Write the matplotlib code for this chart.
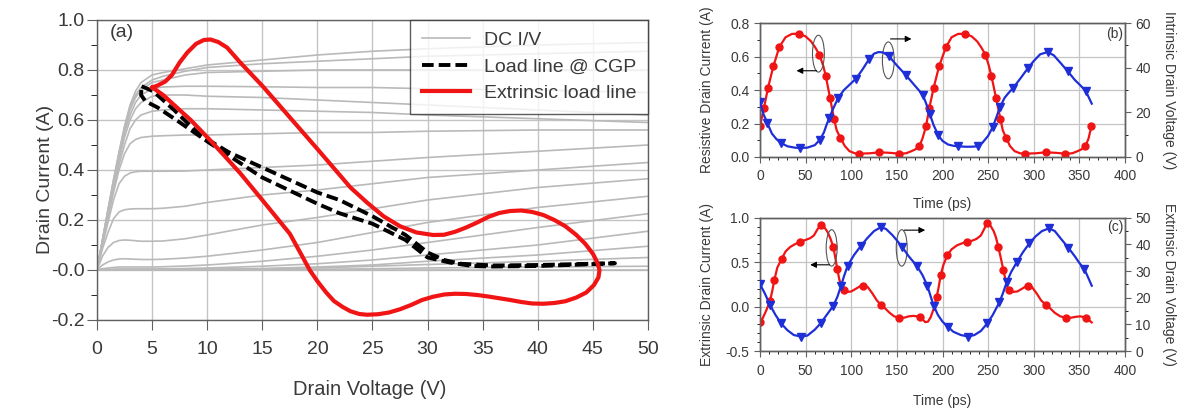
import matplotlib
matplotlib.use("Agg")
import matplotlib.pyplot as plt
from matplotlib.patches import Ellipse
from matplotlib.ticker import MultipleLocator

plt.rcParams['font.family'] = ['Liberation Sans', 'DejaVu Sans']
TXT = "#3a3a3a"
GRID = "#c4c4c4"
SPINE = "#606060"
RED = "#f01414"
BLUE = "#1f2fd8"

# ---------------- panel (a) data ----------------
V_DC = [0, 0.5, 1, 1.5, 2, 2.5, 3, 3.5, 4, 5, 6, 8, 10, 15, 20, 25, 30, 40, 50]
I_DC = [
    [0, 0.12, 0.24, 0.36, 0.47, 0.575, 0.66, 0.715, 0.75, 0.78, 0.79, 0.805, 0.82, 0.84, 0.86, 0.875, 0.885, 0.90, 0.91],
    [0, 0.12, 0.24, 0.36, 0.47, 0.57, 0.65, 0.70, 0.73, 0.76, 0.775, 0.795, 0.81, 0.825, 0.835, 0.845, 0.855, 0.865, 0.875],
    [0, 0.12, 0.24, 0.35, 0.46, 0.56, 0.64, 0.69, 0.72, 0.75, 0.76, 0.78, 0.79, 0.795, 0.80, 0.80, 0.80, 0.80, 0.80],
    [0, 0.115, 0.23, 0.34, 0.45, 0.55, 0.62, 0.67, 0.70, 0.725, 0.732, 0.735, 0.735, 0.733, 0.73, 0.73, 0.725, 0.72, 0.71],
    [0, 0.115, 0.23, 0.34, 0.44, 0.53, 0.60, 0.645, 0.67, 0.695, 0.70, 0.70, 0.695, 0.69, 0.68, 0.67, 0.66, 0.64, 0.62],
    [0, 0.11, 0.22, 0.32, 0.42, 0.50, 0.565, 0.60, 0.62, 0.635, 0.64, 0.645, 0.645, 0.64, 0.635, 0.63, 0.62, 0.605, 0.59],
    [0, 0.105, 0.21, 0.31, 0.40, 0.465, 0.505, 0.522, 0.53, 0.535, 0.537, 0.54, 0.54, 0.545, 0.55, 0.55, 0.555, 0.56, 0.56],
    [0, 0.10, 0.19, 0.28, 0.345, 0.375, 0.388, 0.393, 0.395, 0.395, 0.395, 0.396, 0.40, 0.41, 0.42, 0.435, 0.45, 0.475, 0.50],
    [0, 0.085, 0.15, 0.205, 0.232, 0.241, 0.244, 0.245, 0.245, 0.245, 0.247, 0.255, 0.27, 0.30, 0.32, 0.345, 0.37, 0.40, 0.43],
    [0, 0.055, 0.09, 0.11, 0.118, 0.12, 0.119, 0.117, 0.115, 0.115, 0.116, 0.125, 0.14, 0.18, 0.21, 0.245, 0.28, 0.33, 0.365],
    [0, 0.02, 0.032, 0.04, 0.044, 0.045, 0.044, 0.043, 0.042, 0.042, 0.043, 0.048, 0.055, 0.08, 0.11, 0.15, 0.19, 0.25, 0.295],
    [0, 0.005, 0.008, 0.01, 0.012, 0.012, 0.012, 0.012, 0.012, 0.012, 0.013, 0.016, 0.02, 0.035, 0.055, 0.08, 0.11, 0.17, 0.225],
    [0, 0.001, 0.002, 0.003, 0.004, 0.004, 0.004, 0.004, 0.004, 0.004, 0.0045, 0.006, 0.008, 0.015, 0.025, 0.04, 0.06, 0.10, 0.155],
    [0, 0, 0.001, 0.0015, 0.002, 0.002, 0.002, 0.002, 0.002, 0.002, 0.002, 0.0025, 0.003, 0.006, 0.012, 0.02, 0.035, 0.06, 0.095],
    [0, 0, 0, 0.001, 0.001, 0.001, 0.001, 0.001, 0.001, 0.001, 0.001, 0.0015, 0.002, 0.004, 0.008, 0.015, 0.022, 0.035, 0.05],
    [0, 0, 0, 0, 0, 0, 0, 0, 0, 0, 0, 0.0005, 0.001, 0.002, 0.003, 0.005, 0.008, 0.012, 0.015],
    [0, 0, 0, 0, 0, 0, 0, 0, 0, 0, 0, 0, 0, 0, 0, 0, 0, 0, 0],
]

# load line @ CGP (closed, dashed)
V_CGP = [4.05, 5.1, 7.0, 9.35, 12, 15, 20, 22, 25, 28, 30, 31.5, 33, 36, 40, 44, 47,
         44, 40, 36, 34, 32, 30, 28, 25, 22, 20, 15, 10.25, 7.2, 5.5, 4.4, 4.0, 4.05]
I_CGP = [0.735, 0.715, 0.64, 0.54, 0.47, 0.41, 0.31, 0.28, 0.215, 0.14, 0.07, 0.04, 0.025,
         0.018, 0.02, 0.024, 0.027,
         0.022, 0.016, 0.014, 0.016, 0.03, 0.05, 0.12, 0.185, 0.227, 0.265, 0.37, 0.507,
         0.60, 0.65, 0.675, 0.70, 0.735]

# extrinsic load line (closed)
V_EXT = [5.03, 5.5, 6.2, 6.8, 7.5, 8.2, 9.0, 9.7, 10.3, 11.0, 11.8, 13.0, 15.06, 20.0,
         23.0, 24.5, 26.0, 27.5, 29.0, 30.5, 31.5, 32.5, 33.5, 34.5, 35.5, 36.5, 37.5,
         38.5, 39.5, 40.5, 41.5, 42.5, 43.5, 44.3, 45.0, 45.4, 45.6, 45.5, 45.1, 44.4,
         43.5, 42.5, 41.5, 40.5, 39.5, 38.5, 37.5, 36.5, 35.5, 34.5, 33.5, 32.5, 31.5,
         30.5, 29.5, 28.5, 27.5, 26.5, 25.5, 24.5, 23.8, 23.0, 22.3, 21.5, 20.8, 20.0,
         19.3, 18.5, 17.5, 15.0, 13.0, 11.5, 10.25, 8.5, 7.0, 6.0, 5.03]
I_EXT = [0.73, 0.738, 0.754, 0.78, 0.83, 0.87, 0.905, 0.92, 0.922, 0.912, 0.89, 0.83,
         0.734, 0.484, 0.33, 0.27, 0.215, 0.175, 0.15, 0.14, 0.141, 0.153, 0.17, 0.19,
         0.212, 0.228, 0.236, 0.238, 0.232, 0.22, 0.20, 0.175, 0.14, 0.105, 0.065, 0.03,
         0.0, -0.03, -0.06, -0.09, -0.11, -0.125, -0.132, -0.135, -0.134, -0.128, -0.12,
         -0.113, -0.106, -0.10, -0.096, -0.095, -0.098, -0.107, -0.12, -0.14, -0.157,
         -0.17, -0.177, -0.179, -0.176, -0.165, -0.148, -0.124, -0.09, -0.045, 0.0, 0.065,
         0.145, 0.28, 0.387, 0.46, 0.52, 0.60, 0.66, 0.70, 0.73]

A_YTICKS = [-0.2, 0.0, 0.2, 0.4, 0.6, 0.8, 1.0]
A_YLABELS = ["-0.2", "-0.0", "0.2", "0.4", "0.6", "0.8", "1.0"]

# ---------------- panel (b) data ----------------
TB_I = [0, 4.4, 8.8, 14.6, 21.2, 28, 35, 42.7, 50, 56, 61, 65, 69, 72, 76.7, 81.1, 84, 88,
        93, 98, 104, 108.9, 120, 130.8, 142, 152.3, 160, 166, 170, 174.6, 178, 181.9,
        185.6, 190.3, 196.2, 203.8, 210, 217, 225, 232, 238, 243, 246.9, 250.5, 253.5,
        258.6, 263.4, 266, 269.6, 274, 279, 285, 290.8, 302, 313, 324, 334.2, 342, 348,
        352, 356.5, 360, 363.1]
IB = [0.183, 0.295, 0.414, 0.541, 0.657, 0.715, 0.735, 0.736, 0.72, 0.69, 0.65, 0.611,
      0.55, 0.486, 0.354, 0.229, 0.16, 0.115, 0.065, 0.035, 0.022, 0.02, 0.022, 0.028,
      0.025, 0.02, 0.022, 0.035, 0.045, 0.064, 0.11, 0.183,
      0.295, 0.414, 0.541, 0.657, 0.715, 0.735, 0.736, 0.72, 0.69, 0.65, 0.611, 0.55,
      0.486, 0.354, 0.229, 0.16, 0.115, 0.065, 0.035, 0.022, 0.02, 0.022, 0.028, 0.025,
      0.02, 0.022, 0.035, 0.045, 0.064, 0.11, 0.183]
TB_I_MK = [0, 4.4, 8.8, 14.6, 21.2, 42.7, 65, 72, 76.7, 81.1, 88, 108.9, 130.8, 152.3,
           174.6, 181.9, 185.6, 190.3, 196.2, 203.8, 225, 246.9, 253.5, 258.6, 263.4,
           269.6, 290.8, 313, 334.2, 356.5, 363.1]
IB_MK = [0.183, 0.295, 0.414, 0.541, 0.657, 0.736, 0.611, 0.486, 0.354, 0.229, 0.115,
         0.02, 0.028, 0.02, 0.064, 0.183, 0.295, 0.414, 0.541, 0.657, 0.736, 0.611, 0.486,
         0.354, 0.229, 0.115, 0.02, 0.028, 0.02, 0.064, 0.183]

TB_V = [0, 4, 8, 13, 18, 23, 30, 38, 43.8, 52, 60, 65.8, 70, 73, 76, 80, 85.8, 92, 98,
        105.2, 112, 119.8, 125, 130, 135, 141.4, 150, 160, 170, 178.3, 182, 186.3, 190,
        195.4, 200, 206, 212, 217, 225, 232, 238.5, 244, 250, 255, 259, 263, 268, 272,
        277.6, 285, 294, 300, 307, 315.3, 322, 330, 337.2, 345, 350, 356.9, 363.5]
VB = [24.5, 19, 15.2, 10.5, 8, 6.3, 4.8, 4.2, 4.0, 4.2, 5.3, 7.8, 11, 14.5, 17.6, 21.5,
      26.6, 30, 32.3, 35.1, 39, 44.0, 46.3, 47, 46.8, 45.1, 41, 36.6, 31.8, 27.9, 24,
      19.1, 14.5, 9.7, 7.2, 5.6, 5, 4.8, 4.6, 4.6, 4.8, 6.5, 9.5, 13.4, 17.8, 22.4, 26.5,
      28.5, 31.0, 35, 40.0, 43, 46, 47.0, 45.5, 41.8, 38.4, 34.5, 32.5, 29.6, 23.9]
TB_V_MK = [0, 8, 23, 43.8, 65.8, 76, 85.8, 105.2, 119.8, 141.4, 160, 178.3, 186.3, 195.4,
           217, 238.5, 255, 263, 277.6, 294, 315.3, 337.2, 356.9]
VB_MK = [24.5, 15.2, 6.3, 4.0, 7.8, 17.6, 26.6, 35.1, 44.0, 45.1, 36.6, 27.9, 19.1, 9.7,
         4.8, 4.8, 13.4, 22.4, 31.0, 40.0, 47.0, 38.4, 29.6]

# ---------------- panel (c) data ----------------
TC_I = [0, 3, 7, 11, 13.5, 15.7, 19, 23.7, 28, 33, 38, 43.8, 50, 55, 59, 63, 66.5, 70, 74,
        77, 80.4, 82.5, 84.7, 87, 89.5, 92, 96, 100, 105, 109, 113.2, 118, 123, 128, 132.6,
        137, 142, 147, 152.7, 158, 163, 168, 172, 175.3, 178, 181, 184, 187, 190.5, 193.6,
        196, 198, 201, 205.3, 210, 216, 221, 226.5, 232, 237, 242, 246, 248.4, 252, 256,
        258.5, 261.2, 264, 266.7, 269, 271, 272.9, 277, 282, 287, 291, 294, 298, 303, 308,
        313.4, 318, 323, 329, 335, 341, 346, 351, 357.3, 360, 363.5]
IC = [-0.17, -0.13, -0.04, 0.064, 0.18, 0.30, 0.44, 0.535, 0.62, 0.67, 0.70, 0.73, 0.75,
      0.77, 0.80, 0.87, 0.917, 0.90, 0.84, 0.77, 0.67, 0.55, 0.42, 0.30, 0.22, 0.186,
      0.165, 0.17, 0.20, 0.225, 0.235, 0.22, 0.15, 0.07, 0.017, -0.02, -0.07, -0.11,
      -0.125, -0.125, -0.11, -0.105, -0.11, -0.118, -0.14, -0.175, -0.17, -0.12, -0.02,
      0.11, 0.23, 0.355, 0.47, 0.58, 0.645, 0.69, 0.71, 0.73, 0.74, 0.76, 0.80, 0.88,
      0.936, 0.92, 0.85, 0.78, 0.67, 0.54, 0.41, 0.30, 0.22, 0.186, 0.165, 0.17, 0.20,
      0.225, 0.235, 0.22, 0.15, 0.07, 0.017, -0.02, -0.07, -0.11, -0.125, -0.125, -0.115,
      -0.11, -0.125, -0.15, -0.178]
TC_I_MK = [0, 11, 15.7, 23.7, 43.8, 66.5, 80.4, 84.7, 92, 113.2, 132.6, 152.7, 175.3,
           193.6, 198, 205.3, 226.5, 248.4, 261.2, 266.7, 272.9, 294, 313.4, 335, 357.3]
IC_MK = [-0.17, 0.064, 0.30, 0.535, 0.73, 0.917, 0.67, 0.42, 0.186, 0.235, 0.017, -0.125,
         -0.118, 0.11, 0.355, 0.58, 0.73, 0.936, 0.67, 0.41, 0.186, 0.235, 0.017, -0.125,
         -0.125]

TC_V = [0, 5, 11, 17, 23, 30, 37, 45, 52, 60, 66.5, 73, 80.4, 85, 88.8, 92, 96, 103,
        110.7, 118, 125, 132.2, 138, 145, 150, 155.6, 163, 171.7, 178, 183.4, 187, 190.3,
        195, 200, 205.7, 212, 220, 228.3, 235, 242, 249.1, 255, 262.3, 266, 270.3, 275,
        281.3, 288, 295.2, 302, 309, 316.7, 323, 330, 337.9, 345, 350, 355.4, 359, 363.5]
VC = [25, 21.8, 17.25, 13.5, 10.4, 7.8, 6.0, 5.4, 5.8, 8.0, 10.4, 13.5, 17, 20.5, 24.5,
      28, 32, 36, 39.5, 42.5, 45, 46.4, 45.8, 43.5, 41.5, 39.1, 35.5, 32, 28.5, 24.5, 20.5,
      17, 13.5, 11, 9.1, 7.2, 6, 5.4, 6, 7.5, 10.4, 13.5, 18.25, 21.5, 25.75, 29.5, 33.25,
      37, 40.4, 43, 45, 46, 45, 42, 38.75, 35.5, 33, 30.75, 28, 24.5]
TC_V_MK = [0, 11, 23, 45, 66.5, 80.4, 88.8, 96, 110.7, 132.2, 155.6, 171.7, 183.4, 190.3,
           205.7, 228.3, 249.1, 262.3, 270.3, 281.3, 295.2, 316.7, 337.9, 355.4]
VC_MK = [25, 17.25, 10.4, 5.4, 10.4, 17, 24.5, 32, 39.5, 46.4, 39.1, 32, 24.5, 17, 9.1,
         5.4, 10.4, 18.25, 25.75, 33.25, 40.4, 46, 38.75, 30.75]

C_YTICKS = [-0.5, 0.0, 0.5, 1.0]
C_YLABELS = ["-0.5", "0.0", "0.5", "1.0"]


def style_box(ax):
    for s in ax.spines.values():
        s.set_color(SPINE)
        s.set_linewidth(1.0)
    ax.tick_params(colors=SPINE, labelcolor=TXT)


fig = plt.figure(figsize=(11.84, 4.08), dpi=100)

# ======================= (a) =======================
ax = fig.add_axes([0.0819, 0.2157, 0.4654, 0.7353])
for row in I_DC:
    ax.plot(V_DC, row, color="#b9b9b9", lw=1.2, zorder=2)
ax.plot([], [], color="#b9b9b9", lw=1.2, label="DC I/V")
ax.plot(V_CGP, I_CGP, color="black", lw=2.8, ls=(0, (3.0, 1.3)), zorder=3,
        label="Load line @ CGP")
ax.plot(V_EXT, I_EXT, color=RED, lw=3.0, zorder=4, label="Extrinsic load line",
        solid_joinstyle="round")
ax.set_xlim(0, 50)
ax.set_ylim(-0.2, 1.0)
ax.set_xticks(range(0, 51, 5))
ax.set_yticks(A_YTICKS)
ax.set_yticklabels(A_YLABELS)
ax.yaxis.set_minor_locator(MultipleLocator(0.1))
ax.grid(True, color=GRID, lw=1.0, zorder=0)
ax.set_axisbelow(True)
style_box(ax)
ax.tick_params(which="major", direction="out", length=7, labelsize=14)
ax.tick_params(axis="x", pad=8)
ax.tick_params(axis="y", pad=2)
ax.tick_params(which="minor", direction="out", length=4)
ax.set_xlabel("Drain Voltage (V)", fontsize=14.5, color=TXT)
ax.set_ylabel("Drain Current (A)", fontsize=14, color=TXT)
ax.xaxis.set_label_coords(0.495, -0.2)
ax.yaxis.set_label_coords(-0.078, 0.47)
ax.text(1.2, 0.93, "(a)", fontsize=14, color=TXT)
leg = ax.legend(loc="upper right", fontsize=14, frameon=True, fancybox=False,
                borderaxespad=0, handlelength=2.5, handletextpad=0.7,
                labelspacing=0.45, borderpad=0.6)
leg.get_frame().set_edgecolor("#333333")
leg.get_frame().set_linewidth(1.0)
for t in leg.get_texts():
    t.set_color(TXT)


def small_panel(rect, t_i, i_v, t_imk, i_mk, t_v, v_v, t_vmk, v_mk,
                ylim, ystep, yminor, vlim, vstep, vminor, ylab, vlab, tag, tagy,
                ellipses, arrows, yticks=None, ylabels=None, xlab_y=-0.33):
    a = fig.add_axes(rect)
    a.set_xlim(0, 400)
    a.set_ylim(*ylim)
    a.set_xticks(range(0, 401, 50))
    a.xaxis.set_minor_locator(MultipleLocator(10))
    if yticks is None:
        a.yaxis.set_major_locator(MultipleLocator(ystep))
    else:
        a.set_yticks(yticks)
        a.set_yticklabels(ylabels)
    a.yaxis.set_minor_locator(MultipleLocator(yminor))
    a.grid(True, color=GRID, lw=0.9)
    a.set_axisbelow(True)
    style_box(a)
    a.tick_params(which="major", direction="out", length=4, labelsize=10)
    a.tick_params(axis="x", pad=5)
    a.tick_params(which="minor", direction="out", length=2.5)
    a.plot(t_i, i_v, color=RED, lw=1.6, zorder=3)
    a.plot(t_imk, i_mk, ls="none", marker="o", ms=5, color=RED, zorder=4)
    a.set_xlabel("Time (ps)", fontsize=10, color=TXT)
    a.xaxis.set_label_coords(0.5, xlab_y)
    a.set_ylabel(ylab, fontsize=10, color=TXT)
    a.yaxis.set_label_coords(-0.125, 0.5)
    a.text(389, tagy, tag, fontsize=10, color=TXT, ha="center", va="center")

    r = a.twinx()
    r.set_ylim(*vlim)
    r.yaxis.set_major_locator(MultipleLocator(vstep))
    r.yaxis.set_minor_locator(MultipleLocator(vminor))
    style_box(r)
    r.tick_params(which="major", direction="out", length=4, labelsize=10)
    r.tick_params(which="minor", direction="out", length=2.5)
    r.plot(t_v, v_v, color=BLUE, lw=1.6, zorder=3)
    r.plot(t_vmk, v_mk, ls="none", marker="v", ms=5.5, color=BLUE, zorder=4)
    r.set_ylabel(vlab, fontsize=10, color=TXT, rotation=-90, va="bottom")
    r.yaxis.set_label_coords(1.10, 0.5)

    for (cx, cy, w, h) in ellipses:
        a.add_patch(Ellipse((cx, cy), w, h, fill=False, ec="#555555", lw=0.8, zorder=5))
    for (x0, y0, x1, y1) in arrows:
        a.annotate("", xy=(x1, y1), xytext=(x0, y0),
                   arrowprops=dict(arrowstyle="-|>", color="black", lw=0.8,
                                   mutation_scale=9, shrinkA=0, shrinkB=0), zorder=5)
    return a


small_panel([0.6419, 0.6152, 0.3083, 0.3284],
            TB_I, IB, TB_I_MK, IB_MK, TB_V, VB, TB_V_MK, VB_MK,
            (0, 0.8), 0.2, 0.1, (0, 60), 20, 10,
            "Resistive Drain Current (A)", "Intrinsic Drain Voltage (V)", "(b)", 0.736,
            ellipses=[(64, 0.617, 13, 0.22), (140.6, 0.577, 13, 0.22)],
            arrows=[(62, 0.515, 40, 0.515), (143, 0.705, 166, 0.705)],
            xlab_y=-0.30)

small_panel([0.6419, 0.1397, 0.3083, 0.3267],
            TC_I, IC, TC_I_MK, IC_MK, TC_V, VC, TC_V_MK, VC_MK,
            (-0.5, 1.0), 0.5, 0.1, (0, 50), 10, 5,
            "Extrinsic Drain Current (A)", "Extrinsic Drain Voltage (V)", "(c)", 0.9,
            ellipses=[(78.5, 0.66, 12, 0.41), (155.3, 0.66, 12, 0.41)],
            arrows=[(76, 0.47, 55, 0.47), (158, 0.86, 181, 0.86)],
            yticks=C_YTICKS, ylabels=C_YLABELS, xlab_y=-0.32)

fig.savefig("out.png", dpi=100)
